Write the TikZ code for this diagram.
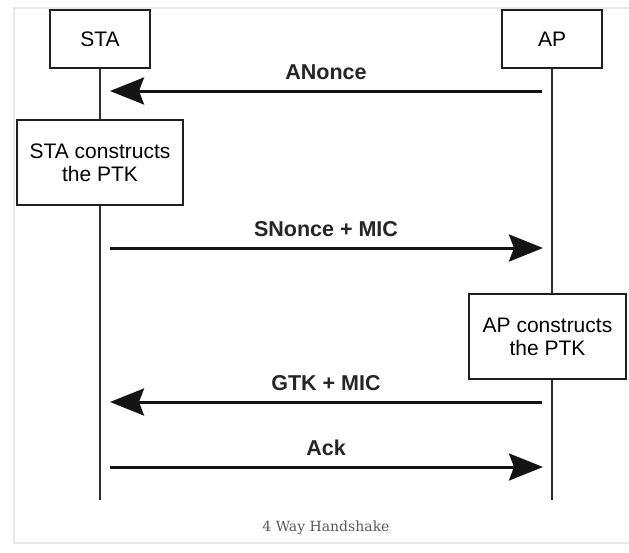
\documentclass[tikz,border=0pt]{standalone}
\usepackage{fontspec}
\setmainfont{Liberation Sans}
\newfontfamily\capfont{DejaVu Serif}
\usetikzlibrary{arrows.meta}
\begin{document}
\begin{tikzpicture}[x=1pt,y=-1pt,
  actor/.style={draw=black!88, line width=2.8pt, minimum width=100pt, minimum height=58pt, font=\fontsize{21}{23}\selectfont, inner sep=0pt},
  procbox/.style={draw=black!88, line width=2.8pt, align=center, minimum height=85pt, font=\fontsize{21}{23}\selectfont, inner sep=0pt},
  life/.style={draw=black!82, line width=2.5pt},
  msg/.style={draw=black!92, line width=3pt, -{Stealth[length=34pt,width=27pt,inset=5pt]}},
  lbl/.style={font=\bfseries\fontsize{21.5}{24}\selectfont, text=black!85},
  frame/.style={draw=black!9, line width=2pt}
]
\fill[white] (0,0) rectangle (629,552);
\useasboundingbox (0,0) rectangle (629,552);
\draw[frame] (629,8) -- (14,8) -- (14,543) -- (629,543);

% actors
\node[actor] (sta) at (100,39) {STA};
\node[actor] (ap) at (552,39) {AP};

% process boxes
\node[procbox, minimum width=166pt] (stabox) at (100,162.5) {STA constructs\\the PTK};
\node[procbox, minimum width=157pt] (apbox) at (547.5,336.5) {AP constructs\\the PTK};

% lifeline ends
\coordinate (staend) at (100,500);
\coordinate (apend) at (552,500);

% lifelines
\draw[life] (sta.south) -- (stabox.north);
\draw[life] (stabox.south) -- (staend);
\draw[life] (ap.south) -- (ap.south |- apbox.north);
\draw[life] (ap.south |- apbox.south) -- (apend);

% message end points
\coordinate (m1a) at (542,91);  \coordinate (m1b) at (110,91);
\coordinate (m2a) at (110,248); \coordinate (m2b) at (543,248);
\coordinate (m3a) at (542,402); \coordinate (m3b) at (110,402);
\coordinate (m4a) at (110,467); \coordinate (m4b) at (543,467);

\draw[msg] (m1a) -- (m1b);
\draw[msg] (m2a) -- (m2b);
\draw[msg] (m3a) -- (m3b);
\draw[msg] (m4a) -- (m4b);

% labels
\node[lbl] (l1) at (326,72) {ANonce};
\node[lbl] (l2) at (326,229) {SNonce + MIC};
\node[lbl] (l3) at (326,383) {GTK + MIC};
\node[lbl] (l4) at (326,448) {Ack};

% caption
\node[font=\capfont\fontsize{14}{16}\selectfont, text=black!65] (cap) at (326,528) {4 Way Handshake};
\end{tikzpicture}
\end{document}
